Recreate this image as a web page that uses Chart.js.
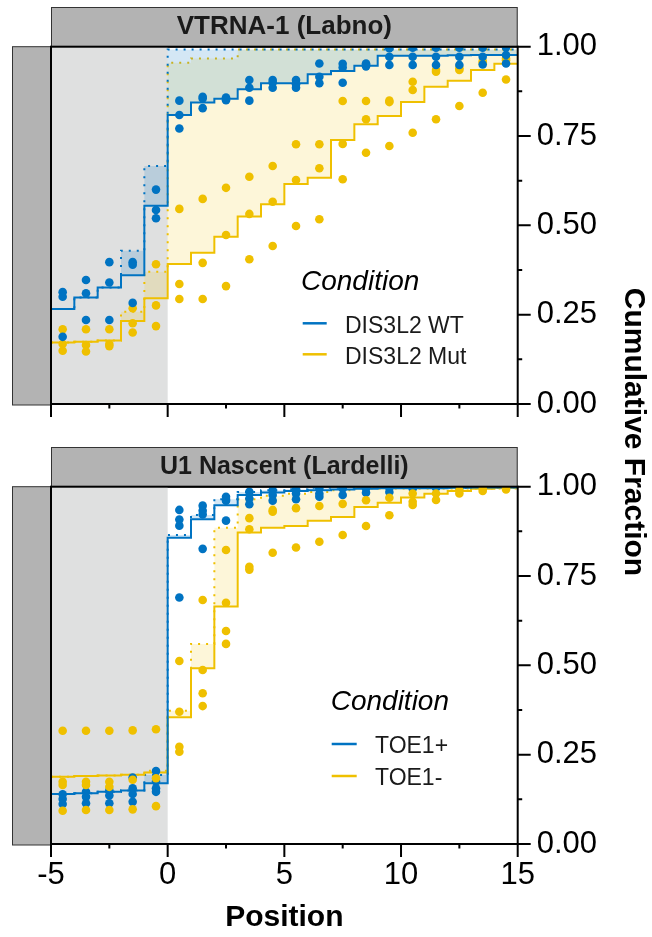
<!DOCTYPE html>
<html><head><meta charset="utf-8">
<script src="https://cdn.jsdelivr.net/npm/chart.js@4.4.1/dist/chart.umd.min.js"></script>
<style>
html,body{margin:0;padding:0;background:#fff;overflow:hidden}
#wrap{position:relative;width:652px;height:937px;background:#fff}
canvas{position:absolute;left:0}
#ytitle{position:absolute;left:437px;top:417px;width:400px;height:30px;line-height:30px;text-align:center;font:bold 30px 'Liberation Sans',Arial,sans-serif;color:#000;transform:rotate(90deg);transform-origin:50% 50%;white-space:nowrap}
</style></head>
<body>
<div id="wrap">
<canvas id="c1" width="652" height="440" style="top:0"></canvas>
<canvas id="c2" width="652" height="497" style="top:440px"></canvas>
<div id="ytitle">Cumulative Fraction</div>
</div>
<script>
const FONT = "'Liberation Sans', Arial, Helvetica, sans-serif";
const BLUE = '#0073C2', YELLOW = '#EFC000';

// ---------- data ----------
const stepStarts = [-5,-4,-3,-2,-1,0,1,2,3,4,5,6,7,8,9,10,11,12,13,14];
const stepEnd = 15;
const dotPositions = [-4.5,-3.5,-2.5,-1.5,-0.5,0.5,1.5,2.5,3.5,4.5,5.5,6.5,7.5,8.5,9.5,10.5,11.5,12.5,13.5,14.5];
const xTickValues = [-5,0,5,10,15];
const xTickLabels = ['-5','0','5','10','15'];
const xMinorTicks = [-2.5,2.5,7.5,12.5];
const yTickValues = [0,0.25,0.5,0.75,1];
const yTickLabels = ['0.00','0.25','0.50','0.75','1.00'];
const yMinorTicks = [0.125,0.375,0.625,0.875];
const panelTitles = ['VTRNA-1 (Labno)','U1 Nascent (Lardelli)'];
const vtrnaConditions = ['DIS3L2 WT','DIS3L2 Mut'];
const u1Conditions = ['TOE1+','TOE1-'];
const legendTitle = 'Condition';
const xAxisTitle = 'Position';

// VTRNA-1 panel
const vtrnaWtLine  = [0.266,0.298,0.326,0.36,0.555,0.809,0.844,0.854,0.881,0.898,0.898,0.923,0.932,0.947,0.975,0.975,0.975,0.976,0.977,0.977];
const vtrnaWtUpper = [0.266,0.298,0.326,0.429,0.666,0.992,0.992,0.992,0.992,0.992,0.992,0.992,0.992,0.992,0.992,0.992,0.992,0.992,0.992,0.992];
const vtrnaMutLine  = [0.172,0.174,0.178,0.232,0.296,0.392,0.423,0.468,0.525,0.559,0.616,0.633,0.739,0.783,0.806,0.845,0.888,0.905,0.935,0.952];
const vtrnaMutUpper = [0.172,0.174,0.178,0.258,0.37,0.955,0.967,0.967,0.992,0.992,0.992,0.992,0.992,0.992,0.992,0.992,0.992,0.992,0.992,0.992];
const vtrnaWtDots = [
 [0.313,0.300,0.188],[0.347,0.31,0.235],[0.397,0.34,0.235],[0.397,0.39,0.283],[0.6,0.543,0.52],
 [0.849,0.809,0.771],[0.86,0.855,0.828],[0.858,0.854,0.85],[0.907,0.885,0.849],[0.907,0.9,0.885],
 [0.907,0.895,0.885],[0.953,0.916,0.898],[0.952,0.942,0.899],[0.953,0.95,0.945],[0.996,0.972,0.949],
 [0.997,0.972,0.949],[0.997,0.972,0.949],[0.997,0.972,0.949],[0.997,0.972,0.95],[0.998,0.977,0.953]];
const vtrnaMutDots = [
 [0.209,0.168,0.149],[0.209,0.165,0.147],[0.209,0.168,0.162],[0.268,0.226,0.2],[0.391,0.276,0.218],
 [0.546,0.336,0.294],[0.574,0.395,0.294],[0.605,0.473,0.33],[0.636,0.532,0.405],[0.666,0.566,0.442],
 [0.727,0.627,0.498],[0.727,0.66,0.517],[0.848,0.728,0.629],[0.848,0.797,0.703],[0.849,0.845,0.722],
 [0.902,0.879,0.759],[0.935,0.93,0.797],[0.94,0.935,0.834],[0.96,0.955,0.871],[0.967,0.962,0.908]];

// U1 Nascent panel
const u1PlusLine  = [0.14,0.142,0.146,0.15,0.17,0.857,0.909,0.948,0.977,0.984,0.988,0.99,0.992,0.994,0.996,0.996,0.996,0.997,0.998,0.998];
const u1PlusUpper = [0.14,0.142,0.146,0.15,0.193,0.865,0.921,0.965,0.985,0.99,0.993,0.997,0.997,0.997,0.997,0.997,0.997,0.997,0.997,0.997];
const u1MinusLine  = [0.188,0.19,0.192,0.194,0.2,0.355,0.492,0.665,0.872,0.885,0.89,0.905,0.915,0.943,0.955,0.97,0.98,0.988,0.994,0.997];
const u1MinusUpper = [0.188,0.19,0.192,0.194,0.205,0.373,0.56,0.885,0.965,0.975,0.98,0.985,0.99,0.995,0.995,0.995,0.995,0.995,0.995,0.995];
const u1PlusDots = [
 [0.139,0.126,0.112],[0.146,0.132,0.114],[0.15,0.136,0.114],[0.186,0.156,0.14,0.118],[0.204,0.175,0.156,0.146],
 [0.935,0.908,0.891,0.69],[0.947,0.933,0.922,0.826],[0.972,0.961,0.905],[0.986,0.967,0.951],[0.99,0.977,0.961],
 [0.992,0.981,0.965],[0.995,0.98,0.972],[0.995,0.977],[0.995,0.983],[0.997,0.985],
 [0.998,0.995],[0.999,0.997],[1,0.998],[1,0.999],[1,1]];
const u1MinusDots = [
 [0.317,0.174,0.165,0.093],[0.317,0.174,0.165,0.095],[0.317,0.174,0.16,0.095],[0.318,0.18,0.097],[0.321,0.184,0.106],
 [0.512,0.37,0.272,0.258],[0.683,0.487,0.422,0.386],[0.823,0.675,0.596,0.56],[0.912,0.881,0.776,0.768],[0.935,0.93,0.815],
 [0.94,0.83],[0.946,0.846],[0.952,0.865],[0.962,0.89],[0.969,0.92],
 [0.981,0.958,0.949],[0.981,0.963],[0.99,0.981],[0.995,0.988],[0.998,0.992]];

// ---------- helpers ----------
function stepData(vals){
  const pts = stepStarts.map((x,i)=>({x:x,y:vals[i]}));
  pts.push({x:stepEnd,y:vals[vals.length-1]});
  return pts;
}
function dotData(groups){
  const pts=[];
  groups.forEach((g,i)=>g.forEach(v=>pts.push({x:dotPositions[i],y:v})));
  return pts;
}

Chart.defaults.font.family = FONT;
Chart.defaults.color = '#000';

const panelDeco = {
  id:'panelDeco',
  beforeDraw(chart, args, o){
    const {ctx, chartArea:a} = chart;
    ctx.save();
    ctx.fillStyle='#b3b3b3'; ctx.strokeStyle='#333'; ctx.lineWidth=1;
    ctx.fillRect(a.left, o.stripTop, a.right-a.left, a.top-o.stripTop);
    ctx.strokeRect(a.left+0.5, o.stripTop+0.5, a.right-a.left-1, a.top-o.stripTop);
    ctx.fillRect(o.sideLeft, a.top, a.left-o.sideLeft, a.bottom-a.top+1);
    ctx.strokeRect(o.sideLeft+0.5, a.top, a.left-o.sideLeft, a.bottom-a.top+1);
    ctx.restore();
  },
  beforeDatasetsDraw(chart, args, o){
    const {ctx, chartArea:a, scales:{x}} = chart;
    const x0=x.getPixelForValue(o.shadeFrom), x1=x.getPixelForValue(o.shadeTo);
    ctx.save(); ctx.fillStyle='#dfe0e0';
    ctx.fillRect(x0, a.top, x1-x0, a.bottom-a.top);
    ctx.restore();
  },
  afterDatasetsDraw(chart, args, o){
    const {ctx, chartArea:a, scales:{x,y}} = chart;
    ctx.save();
    ctx.strokeStyle='#000'; ctx.lineWidth=2;
    ctx.strokeRect(a.left, a.top, a.right-a.left, a.bottom-a.top);
    ctx.beginPath();
    xTickValues.forEach(v=>{const p=x.getPixelForValue(v); ctx.moveTo(p,a.bottom); ctx.lineTo(p,a.bottom+13);});
    xMinorTicks.forEach(v=>{const p=x.getPixelForValue(v); ctx.moveTo(p,a.bottom); ctx.lineTo(p,a.bottom+4.5);});
    yTickValues.forEach(v=>{const p=y.getPixelForValue(v); ctx.moveTo(a.right,p); ctx.lineTo(a.right+13,p);});
    yMinorTicks.forEach(v=>{const p=y.getPixelForValue(v); ctx.moveTo(a.right,p); ctx.lineTo(a.right+4.5,p);});
    ctx.stroke();
    ctx.restore();
  },
  afterDraw(chart, args, o){
    const ctx = chart.ctx, L = o.legend;
    ctx.save();
    ctx.fillStyle='#000'; ctx.textBaseline='alphabetic'; ctx.textAlign='left';
    ctx.font = 'italic 28px '+FONT;
    ctx.fillText(L.title, L.x, L.titleBase);
    L.items.forEach((it,i)=>{
      ctx.strokeStyle=it.color; ctx.lineWidth=2.5;
      ctx.beginPath(); ctx.moveTo(L.lineX0, L.lineY[i]); ctx.lineTo(L.lineX1, L.lineY[i]); ctx.stroke();
      ctx.font = '23px '+FONT; ctx.fillStyle='#1a1a1a';
      ctx.fillText(it.label, L.labelX, L.labelBase[i]);
    });
    ctx.restore();
  }
};

function makePanel(id, c){
  const H = document.getElementById(id).height;
  const datasets = [
    {label:c.cond[1]+' upper', data:stepData(c.mutUpper), showLine:true, stepped:'before', borderColor:YELLOW, borderWidth:2, borderDash:[2,6], borderCapStyle:'butt', pointRadius:0, fill:2, backgroundColor:'rgba(239,192,0,0.15)', order:9},
    {label:c.cond[0]+' upper', data:stepData(c.wtUpper), showLine:true, stepped:'before', borderColor:BLUE, borderWidth:2, borderDash:[2,6], borderCapStyle:'butt', pointRadius:0, fill:3, backgroundColor:'rgba(0,115,194,0.17)', order:8},
    {label:c.cond[1], data:stepData(c.mutLine), showLine:true, stepped:'before', borderColor:YELLOW, borderWidth:2, pointRadius:0, fill:false, order:7},
    {label:c.cond[0], data:stepData(c.wtLine), showLine:true, stepped:'before', borderColor:BLUE, borderWidth:2, pointRadius:0, fill:false, order:6},
    {label:c.cond[1]+' replicates', data:dotData(c.mutDots), showLine:false, pointRadius:4.3, pointBackgroundColor:YELLOW, pointBorderWidth:0, order:c.mutOrder},
    {label:c.cond[0]+' replicates', data:dotData(c.wtDots), showLine:false, pointRadius:4.3, pointBackgroundColor:BLUE, pointBorderWidth:0, order:c.wtOrder}
  ];
  return new Chart(document.getElementById(id), {
    type:'scatter',
    data:{datasets},
    plugins:[panelDeco],
    options:{
      responsive:false, animation:false, events:[],
      layout:{padding:{top:7,left:51,right:0,bottom:0}},
      plugins:{
        legend:{display:false}, tooltip:{enabled:false},
        title:{display:true, text:c.title, fullSize:false, color:'#1a1a1a', font:{size:c.titleSize, weight:'bold', lineHeight:1.2}, padding:{top:c.titlePadTop, bottom:39.7-c.titleSize*1.2-c.titlePadTop}},
        panelDeco:{stripTop:7, sideLeft:12, shadeFrom:-5, shadeTo:0, legend:c.legend}
      },
      scales:{
        x:{type:'linear', min:-5, max:15,
           afterFit:s=>{s.height=H-404;},
           afterBuildTicks:s=>{s.ticks=xTickValues.map(v=>({value:v}));},
           grid:{display:false, drawTicks:true, tickLength:13}, border:{display:false},
           ticks:{display:c.showX, autoSkip:false, maxRotation:0, padding:0, color:'#000', font:{size:31, lineHeight:1.2}, callback:(v,i)=>xTickLabels[i]},
           title:{display:c.showX, text:xAxisTitle, color:'#000', font:{size:30, weight:'bold', lineHeight:1.2}, padding:{top:0,bottom:1.5}}},
        y:{type:'linear', position:'right', min:0, max:1,
           afterFit:s=>{s.width=134.3;},
           afterBuildTicks:s=>{s.ticks=yTickValues.map(v=>({value:v}));},
           grid:{display:false, drawTicks:true, tickLength:13}, border:{display:false},
           ticks:{autoSkip:false, padding:6, color:'#000', font:{size:31}, callback:(v,i)=>yTickLabels[i]}}
      }
    }
  });
}

makePanel('c1', {
  title:panelTitles[0], titleSize:26, titlePadTop:4.4, cond:vtrnaConditions, showX:false,
  wtLine:vtrnaWtLine, wtUpper:vtrnaWtUpper, mutLine:vtrnaMutLine, mutUpper:vtrnaMutUpper,
  wtDots:vtrnaWtDots, mutDots:vtrnaMutDots, wtOrder:4, mutOrder:5,
  legend:{title:legendTitle, x:301, titleBase:289.5, lineX0:302.7, lineX1:326.7, lineY:[323.3,354.3], labelX:345, labelBase:[332.7,364],
          items:[{label:vtrnaConditions[0],color:BLUE},{label:vtrnaConditions[1],color:YELLOW}]}
});
makePanel('c2', {
  title:panelTitles[1], titleSize:25, titlePadTop:5, cond:u1Conditions, showX:true,
  wtLine:u1PlusLine, wtUpper:u1PlusUpper, mutLine:u1MinusLine, mutUpper:u1MinusUpper,
  wtDots:u1PlusDots, mutDots:u1MinusDots, wtOrder:5, mutOrder:4,
  legend:{title:legendTitle, x:330.7, titleBase:270, lineX0:331.7, lineX1:356.7, lineY:[304,336], labelX:375, labelBase:[312.7,345],
          items:[{label:u1Conditions[0],color:BLUE},{label:u1Conditions[1],color:YELLOW}]}
});
</script>
</body></html>
